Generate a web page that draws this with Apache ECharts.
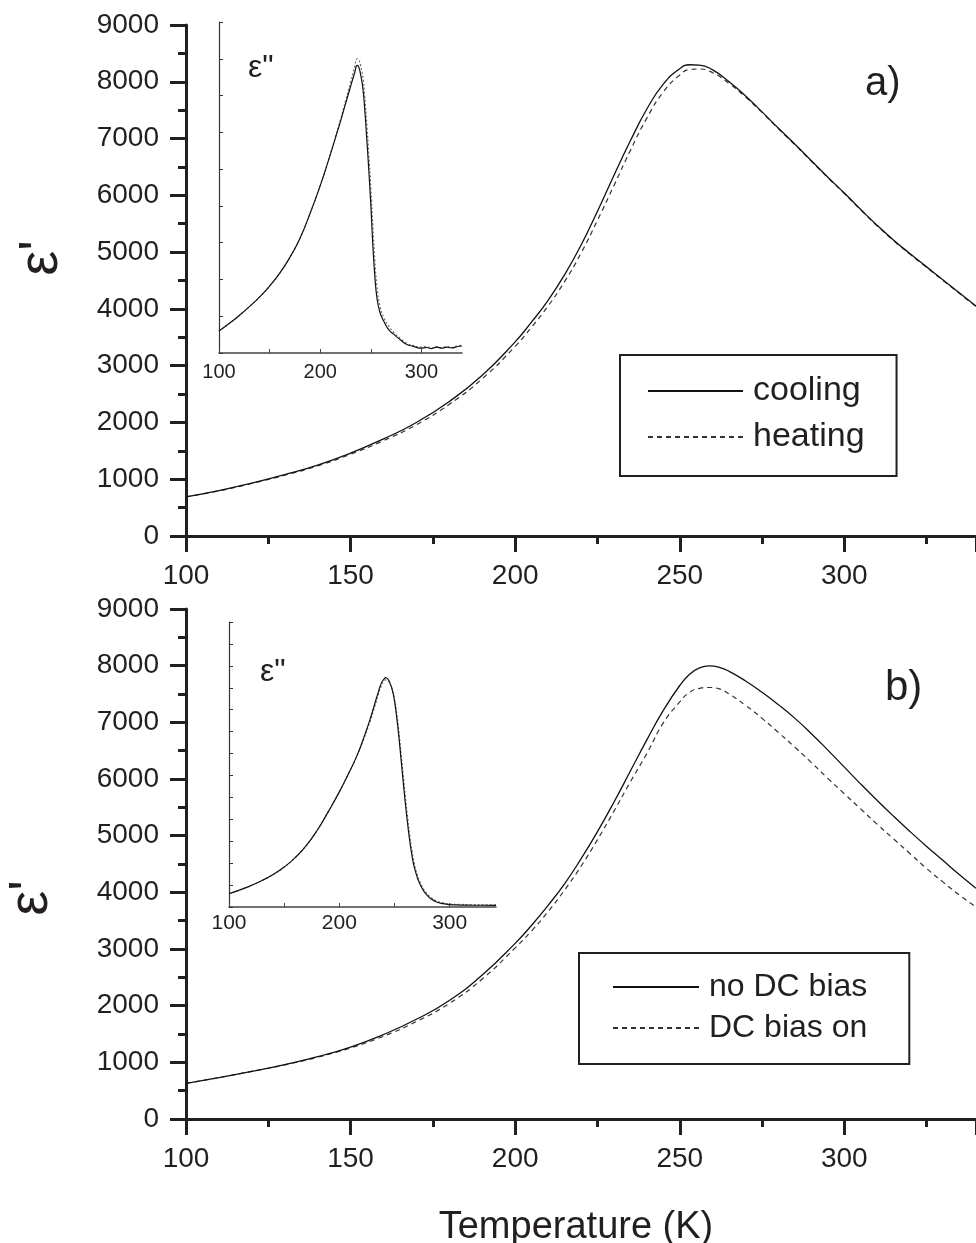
<!DOCTYPE html>
<html>
<head>
<meta charset="utf-8">
<script src="https://cdn.jsdelivr.net/npm/echarts@6/dist/echarts.min.js"></script>
<style>
  html, body { margin: 0; padding: 0; background: #ffffff; }
  #chart { width: 976px; height: 1243px; }
</style>
</head>
<body>
<div id="chart"></div>
<script>
// ---------------- data ----------------
// Panel a) main: real permittivity vs temperature
const tempA = [100,110,120,130,140,150,160,170,180,190,200,205,210,215,220,225,230,235,240,245,250,253,256,260,265,270,275,280,285,290,295,300,305,310,315,320,325,330,335,340];
const coolingA = [690,800,930,1080,1250,1460,1710,2000,2370,2830,3420,3770,4150,4600,5120,5720,6350,6960,7520,7960,8230,8300,8295,8210,8000,7750,7470,7180,6900,6610,6320,6040,5750,5470,5210,4970,4740,4510,4280,4050];
const heatingA = [690,795,925,1070,1235,1440,1680,1960,2320,2770,3340,3680,4050,4480,4980,5560,6170,6790,7360,7820,8120,8215,8225,8160,7970,7730,7460,7170,6890,6600,6310,6030,5740,5460,5200,4960,4730,4500,4270,4040];

// Panel b) main
const tempB = [100,110,120,130,140,150,160,170,180,190,200,205,210,215,220,225,230,235,240,245,250,253,256,259,262,265,270,275,280,285,290,295,300,305,310,315,320,325,330,335,340];
const noBiasB = [630,730,840,960,1100,1270,1490,1760,2090,2540,3100,3420,3770,4150,4590,5070,5590,6140,6690,7210,7650,7850,7960,7995,7970,7900,7730,7530,7310,7070,6800,6510,6210,5910,5620,5340,5070,4810,4560,4310,4070];
const biasOnB = [630,730,840,955,1090,1255,1460,1720,2040,2470,3020,3320,3660,4040,4460,4930,5430,5950,6450,6990,7360,7530,7600,7615,7590,7500,7300,7070,6820,6560,6290,6010,5740,5470,5200,4940,4680,4420,4180,3950,3740];

// Inset a) imaginary part (arbitrary units)
const tempInA = [100,110,120,130,140,150,160,170,180,190,200,210,215,220,225,230,234,236.5,238,240,242,244,246,248,250,252,254,256,259,263,268,273,279,285,292,300,305,310,315,320,325,330,335,340];
const coolingInA = [0.60,0.80,1.02,1.26,1.52,1.82,2.17,2.60,3.12,3.80,4.55,5.40,5.85,6.30,6.78,7.25,7.62,7.82,7.78,7.55,7.22,6.60,5.80,4.95,4.00,2.90,2.05,1.50,1.10,0.85,0.62,0.50,0.36,0.24,0.18,0.13,0.15,0.12,0.16,0.13,0.16,0.14,0.17,0.19];
const heatingInA = [0.60,0.80,1.02,1.26,1.52,1.82,2.17,2.60,3.12,3.80,4.56,5.42,5.88,6.35,6.86,7.36,7.78,8.00,7.98,7.80,7.52,6.98,6.22,5.40,4.50,3.45,2.50,1.82,1.28,0.95,0.72,0.55,0.40,0.27,0.20,0.16,0.18,0.14,0.17,0.15,0.18,0.15,0.19,0.21];

// Inset b)
const tempInB = [100,110,120,130,140,150,160,170,180,190,200,208,215.7,222,227.8,232,235.3,238,240.5,242,244,246,248,250,252,254,256,258,260,262,264,266,268,271,274,278,283,288,294,300,310,320,330,342];
const noBiasInB = [0.61,0.78,0.98,1.21,1.48,1.82,2.25,2.80,3.50,4.35,5.25,6.05,6.87,7.70,8.55,9.25,9.80,10.20,10.40,10.46,10.40,10.20,9.90,9.40,8.65,7.75,6.70,5.65,4.65,3.75,2.95,2.30,1.80,1.30,0.95,0.62,0.38,0.23,0.15,0.11,0.09,0.08,0.08,0.07];
const biasOnInB = [0.61,0.78,0.98,1.21,1.48,1.82,2.25,2.80,3.50,4.35,5.25,6.04,6.85,7.65,8.45,9.12,9.68,10.08,10.30,10.36,10.33,10.17,9.92,9.50,8.85,8.02,7.00,5.98,4.98,4.05,3.22,2.52,1.98,1.42,1.05,0.70,0.44,0.28,0.19,0.14,0.12,0.11,0.10,0.10];

// tick labels
const insetXLabels = [100, 200, 300];
const legendA = ['cooling', 'heating'];
const legendB = ['no DC bias', 'DC bias on'];

// ---------------- chart ----------------
const FONT = '"Liberation Sans", Arial, Helvetica, sans-serif';
const INK = '#231f20';
const zip = (t, v) => t.map((x, i) => [x, v[i]]);

function mainX(gi) {
  return {
    type: 'value', gridIndex: gi, min: 100, max: 340, interval: 50,
    axisLine: { show: true, onZero: false, lineStyle: { color: INK, width: 3 } },
    axisTick: { show: true, length: 16, lineStyle: { color: INK, width: 3 } },
    minorTick: { show: true, splitNumber: 2, length: 8, lineStyle: { color: INK, width: 3 } },
    splitLine: { show: false }, minorSplitLine: { show: false },
    axisLabel: { fontSize: 28, margin: 26, color: INK, fontFamily: FONT, showMaxLabel: false,
      formatter: v => String(v) }
  };
}
function mainY(gi) {
  return {
    type: 'value', gridIndex: gi, min: 0, max: 9000, interval: 1000,
    axisLine: { show: true, onZero: false, lineStyle: { color: INK, width: 3 } },
    axisTick: { show: true, length: 16, lineStyle: { color: INK, width: 3 } },
    minorTick: { show: true, splitNumber: 2, length: 8, lineStyle: { color: INK, width: 3 } },
    splitLine: { show: false }, minorSplitLine: { show: false },
    axisLabel: { fontSize: 28, margin: 27, color: INK, fontFamily: FONT, formatter: v => String(v) }
  };
}
function insetX(gi, max, margin, fs) {
  return {
    type: 'value', gridIndex: gi, min: 100, max: max, interval: 50,
    axisLine: { show: true, onZero: false, lineStyle: { color: '#444', width: 1.5 } },
    axisTick: { show: true, inside: true, length: 4, lineStyle: { color: '#444', width: 1 } },
    splitLine: { show: false },
    axisLabel: { fontSize: fs, margin: margin, color: INK, fontFamily: FONT, showMaxLabel: false,
      formatter: v => insetXLabels.includes(v) ? String(v) : '' }
  };
}
function insetY(gi, max) {
  return {
    type: 'value', gridIndex: gi, min: 0, max: max, interval: 1,
    axisLine: { show: true, onZero: false, lineStyle: { color: '#333', width: 1.2 } },
    axisTick: { show: true, inside: true, length: 4, lineStyle: { color: '#333', width: 1 } },
    splitLine: { show: false },
    axisLabel: { show: false }
  };
}
function solid(name, xi, data, w) {
  return { type: 'line', name, xAxisIndex: xi, yAxisIndex: xi, data, symbol: 'none', showSymbol: false,
    smooth: 0.5, lineStyle: { color: '#111', width: w || 1.3, type: 'solid' },
    itemStyle: { color: '#111' }, emphasis: { disabled: true }, z: 3 };
}
function dashed(name, xi, data, w, pattern, color) {
  return { type: 'line', name, xAxisIndex: xi, yAxisIndex: xi, data, symbol: 'none', showSymbol: false,
    smooth: 0.5, lineStyle: { color: color || '#333', width: w || 1.2, type: pattern || [5, 4] },
    itemStyle: { color: color || '#333' }, emphasis: { disabled: true }, z: 2 };
}

const chart = echarts.init(document.getElementById('chart'), null, { renderer: 'canvas' });
chart.setOption({
  animation: false,
  backgroundColor: '#ffffff',
  grid: [
    { left: 186, top: 25, width: 792, height: 511 },
    { left: 219, top: 22, width: 243, height: 331 },
    { left: 186, top: 609, width: 792, height: 510 },
    { left: 229, top: 622, width: 267, height: 285 }
  ],
  xAxis: [ mainX(0), insetX(1, 340, 9, 20), mainX(2), insetX(3, 342, 6, 21) ],
  yAxis: [ mainY(0), insetY(1, 9), mainY(2), insetY(3, 13) ],
  legend: [
    { data: legendA, orient: 'vertical', left: 620, top: 355, padding: [19, 32, 22, 27],
      itemWidth: 95, itemHeight: 14, itemGap: 12, selectedMode: false,
      itemStyle: { opacity: 0 },
      borderColor: INK, borderWidth: 2, borderRadius: 0,
      textStyle: { fontSize: 34, color: INK, fontFamily: FONT, padding: [0, 0, 0, 5] } },
    { data: legendB, orient: 'vertical', left: 579, top: 953, padding: [18, 42, 20, 33],
      itemWidth: 86, itemHeight: 14, itemGap: 9, selectedMode: false,
      itemStyle: { opacity: 0 },
      borderColor: INK, borderWidth: 2, borderRadius: 0,
      textStyle: { fontSize: 32, color: INK, fontFamily: FONT, padding: [0, 0, 0, 5] } }
  ],
  series: [
    solid('cooling', 0, zip(tempA, coolingA)),
    dashed('heating', 0, zip(tempA, heatingA)),
    solid('ins-a-cooling', 1, zip(tempInA, coolingInA), 1.2),
    dashed('ins-a-heating', 1, zip(tempInA, heatingInA), 1.1, [2, 2], '#666'),
    solid('no DC bias', 2, zip(tempB, noBiasB)),
    dashed('DC bias on', 2, zip(tempB, biasOnB)),
    solid('ins-b-nobias', 3, zip(tempInB, noBiasInB), 1.2),
    dashed('ins-b-biason', 3, zip(tempInB, biasOnInB), 1.1, [2, 2], '#666')
  ],
  graphic: [
    { type: 'text', x: 42, y: 258, rotation: Math.PI / 2,
      style: { text: "ε'", fontSize: 56, fontFamily: FONT, fill: INK, align: 'center', verticalAlign: 'middle', textAlign: 'center', textVerticalAlign: 'middle' } },
    { type: 'text', x: 32, y: 898, rotation: Math.PI / 2,
      style: { text: "ε'", fontSize: 56, fontFamily: FONT, fill: INK, align: 'center', verticalAlign: 'middle', textAlign: 'center', textVerticalAlign: 'middle' } },
    { type: 'text', x: 248, y: 68,
      style: { text: 'ε"', fontSize: 32, fontFamily: FONT, fill: INK, align: 'left', verticalAlign: 'middle', textAlign: 'left', textVerticalAlign: 'middle' } },
    { type: 'text', x: 260, y: 672,
      style: { text: 'ε"', fontSize: 32, fontFamily: FONT, fill: INK, align: 'left', verticalAlign: 'middle', textAlign: 'left', textVerticalAlign: 'middle' } },
    { type: 'text', x: 865, y: 84,
      style: { text: 'a)', fontSize: 40, fontFamily: FONT, fill: INK, align: 'left', verticalAlign: 'middle', textAlign: 'left', textVerticalAlign: 'middle' } },
    { type: 'text', x: 885, y: 688,
      style: { text: 'b)', fontSize: 42, fontFamily: FONT, fill: INK, align: 'left', verticalAlign: 'middle', textAlign: 'left', textVerticalAlign: 'middle' } },
    { type: 'text', x: 576, y: 1228,
      style: { text: 'Temperature (K)', fontSize: 38, fontFamily: FONT, fill: INK, align: 'center', verticalAlign: 'middle', textAlign: 'center', textVerticalAlign: 'middle' } }
  ]
});
</script>
</body>
</html>
